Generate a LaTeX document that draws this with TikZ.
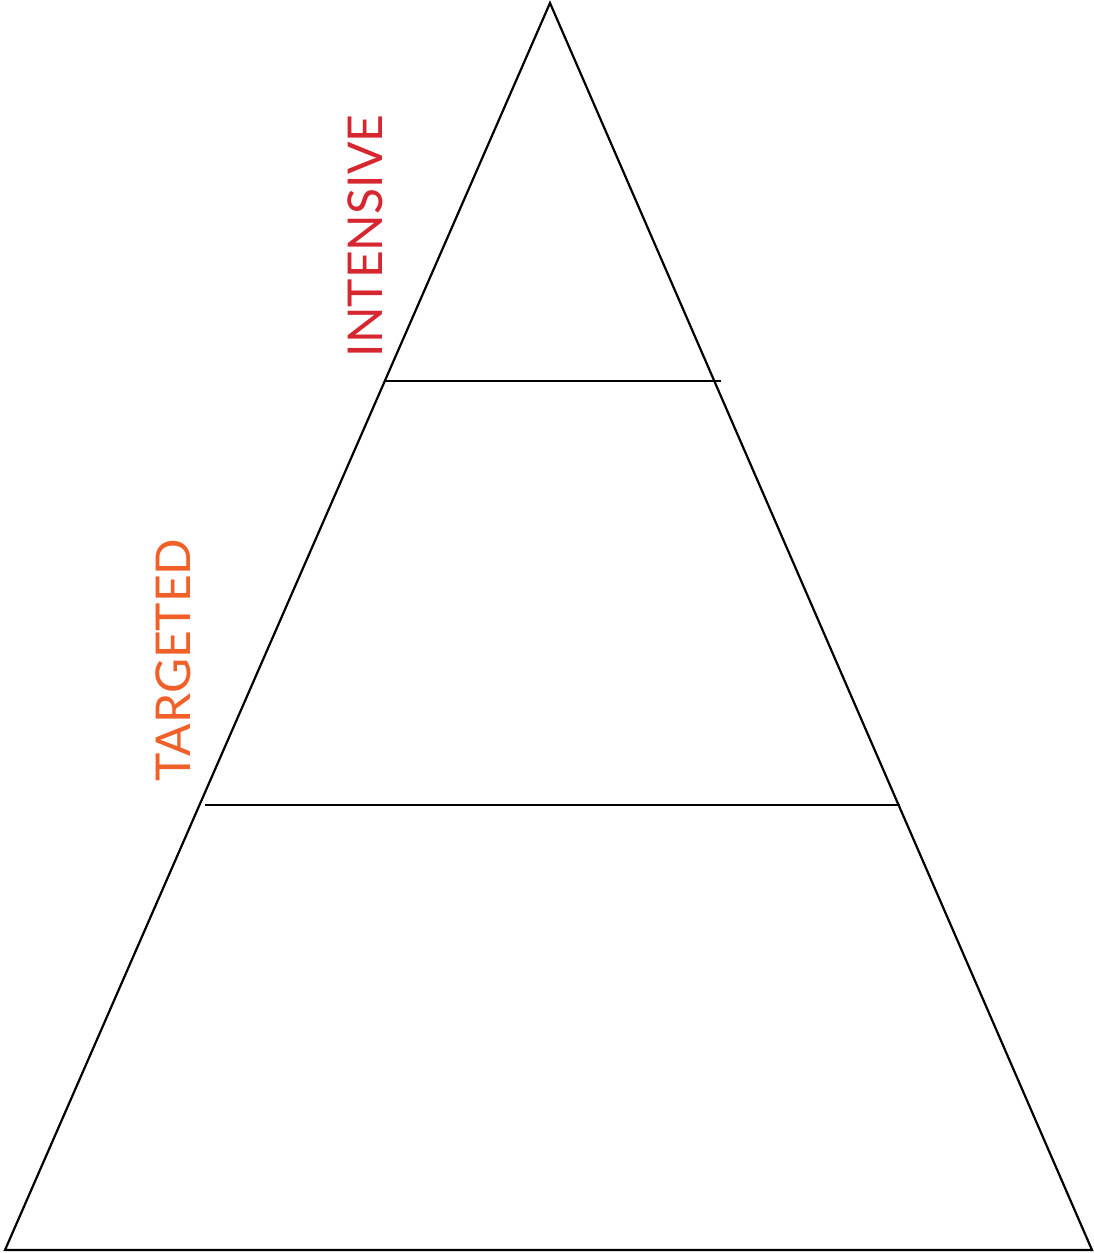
\documentclass[tikz,border=0pt]{standalone}
\usepackage{fontspec}
\setsansfont{Lato}
\usepackage{xcolor}
\definecolor{tierred}{RGB}{214, 38, 48}
\definecolor{tierorange}{RGB}{240, 96, 40}
\usepackage{tikz}

\begin{document}
\begin{tikzpicture}[x=1pt,y=-1pt,
    edge/.style={draw=black,line width=2.2pt},
    tierlabel/.style={font=\sffamily\fontsize{48}{48}\selectfont,rotate=90,inner sep=0pt}]
  \useasboundingbox (0,0) rectangle (1094,1253);
  % pyramid corners
  \coordinate (apex) at (550,3);
  \coordinate (baseL) at (5,1250);
  \coordinate (baseR) at (1092,1250);
  \draw[edge,line join=miter] (apex) -- (baseR) -- (baseL) -- cycle;
  % tier dividers
  \coordinate (topL) at (384,381);
  \coordinate (topR) at (721,381);
  \coordinate (midL) at (205,805);
  \coordinate (midR) at (900,805);
  \draw[edge] (topL) -- (topR);
  \draw[edge] (midL) -- (midR);
  % labels
  \node[tierlabel,text=tierred] (intensive) at (365,236) {INTENSIVE};
  \node[tierlabel,text=tierorange] (targeted) at (173,660) {TARGETED};
\end{tikzpicture}
\end{document}
